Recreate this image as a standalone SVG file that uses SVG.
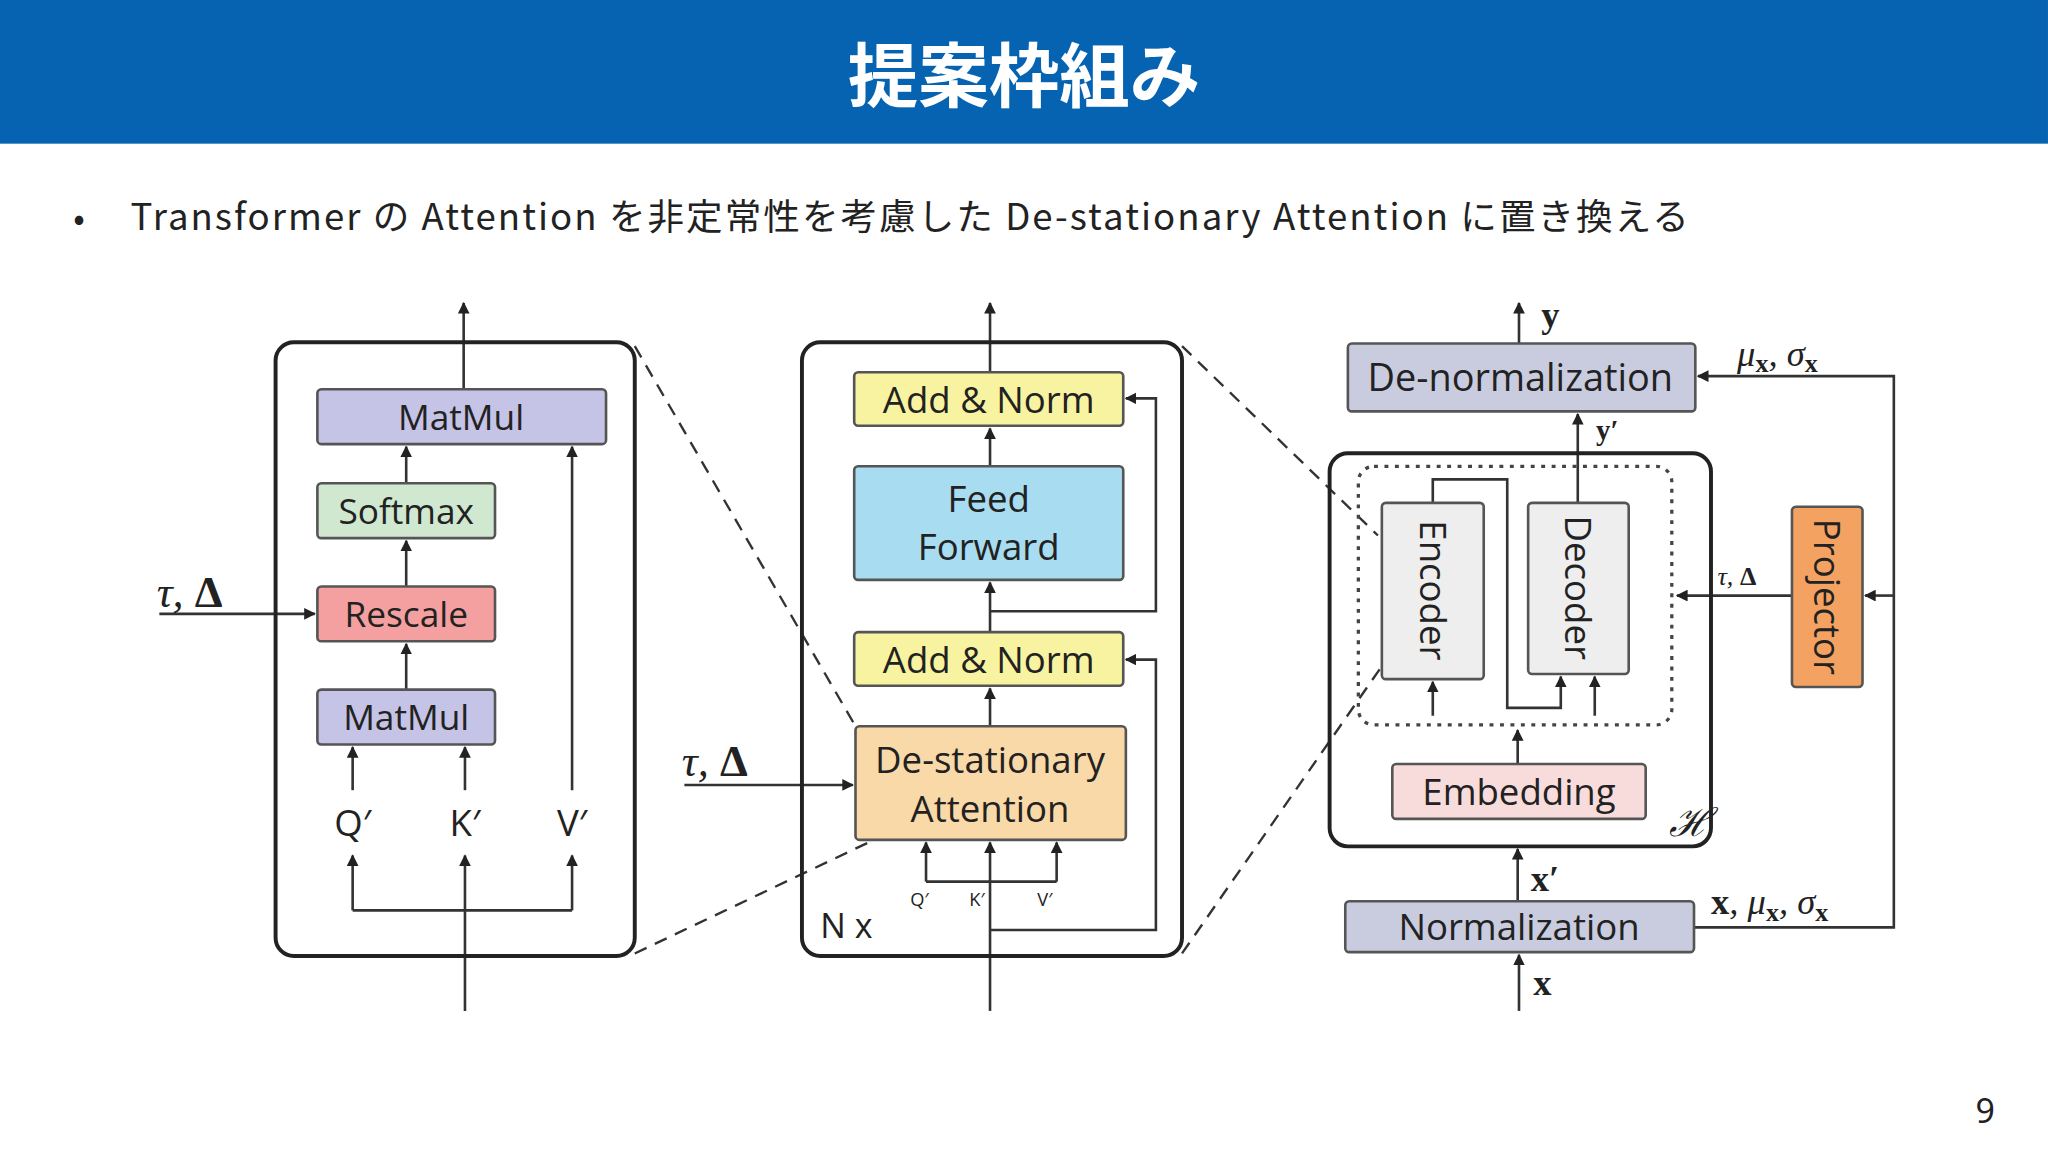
<svg xmlns="http://www.w3.org/2000/svg" width="2048" height="1152" viewBox="0 0 2048 1152">
<defs>
<marker id="ah" viewBox="0 0 10 10" refX="9" refY="5" markerWidth="9" markerHeight="9" markerUnits="userSpaceOnUse" orient="auto"><path d="M0,0 L10,5 L0,10 z" fill="#222"/></marker>
<style>
.b{stroke:#555;stroke-width:2}
.t{font-family:"Open Sans","Liberation Sans",sans-serif;fill:#222;text-anchor:middle}
.m{font-family:"Liberation Serif",serif;fill:#222}
.c{fill:none;stroke:#333;stroke-width:2}
.a{fill:none;stroke:#333;stroke-width:2;marker-end:url(#ah)}
.d{fill:none;stroke:#333;stroke-width:1.8;stroke-dasharray:10 7}
</style>
</defs>
<rect width="2048" height="1152" fill="#fff"/>
<g transform="scale(1.3061)">
<rect x="0" y="0" width="1568" height="110" fill="#0563b1"/>
<text x="784" y="78" font-size="54" font-weight="bold" fill="#fff" text-anchor="middle" font-family="'Noto Sans CJK JP',sans-serif">提案枠組み</text>
<text x="56" y="176" font-size="26" fill="#222" font-family="'Noto Sans CJK JP',sans-serif">•</text>
<text x="100" y="176" font-size="28" fill="#222" textLength="1193" lengthAdjust="spacing" font-family="'Noto Sans CJK JP',sans-serif">Transformer の Attention を非定常性を考慮した De-stationary Attention に置き換える</text>
<text x="1520" y="860" font-size="26" fill="#222" text-anchor="middle" font-family="'Noto Sans',sans-serif">9</text>

<g id="connectors">
<path class="d" d="M486,265 L655,556 M486,730 L665,645 M905,265 L1055,410 M905,730 L1058,510"/>
<!-- left panel -->
<path class="c" d="M356,774 V697 M270,697 H438"/>
<path class="a" d="M356,697 V655"/>
<path class="a" d="M270,697 V655"/>
<path class="a" d="M438,697 V655"/>
<path class="a" d="M270,605 V572"/>
<path class="a" d="M356,605 V572"/>
<path class="a" d="M438,605 V342"/>
<path class="a" d="M311,528 V493"/>
<path class="a" d="M311,449 V414"/>
<path class="a" d="M311,370 V342"/>
<path class="a" d="M355,298 V232"/>
<path class="a" d="M122,470 H241"/>
<!-- middle panel -->
<path class="a" d="M758,774 V645"/>
<path class="c" d="M709,675 H809"/>
<path class="a" d="M709,675 V645"/>
<path class="a" d="M809,675 V645"/>
<path class="a" d="M758,712 H885 V505 H862"/>
<path class="a" d="M758,468 H885 V305 H862"/>
<path class="a" d="M758,556 V527"/>
<path class="a" d="M758,484 V446"/>
<path class="a" d="M758,357 V328"/>
<path class="a" d="M758,285 V232"/>
<path class="a" d="M524,601 H653"/>
<!-- right panel -->
<path class="a" d="M1163,263 V232"/>
<path class="a" d="M1208,385 V317"/>
<path class="a" d="M1097,385 V367 H1154 V542 H1195 V518"/>
<path class="a" d="M1221,548 V518"/>
<path class="a" d="M1097,548 V522"/>
<path class="a" d="M1162,585 V559"/>
<path class="a" d="M1162,690 V650"/>
<path class="a" d="M1163,774 V731"/>
<path class="a" d="M1297,710 H1450 V288 H1300"/>
<path class="a" d="M1450,456 H1428"/>
<path class="a" d="M1372,456 H1284"/>
</g>

<g id="left-panel"><rect x="211" y="262" width="275" height="470" rx="14" fill="none" stroke="#222" stroke-width="3"/></g>
<g id="matmul-top"><rect class="b" x="243" y="298" width="221" height="42" rx="3" fill="#c5c3e6"/><text class="t" x="353" y="329" font-size="27">MatMul</text></g>
<g id="softmax"><rect class="b" x="243" y="370" width="136" height="42" rx="3" fill="#cfe8cf"/><text class="t" x="311" y="401" font-size="27">Softmax</text></g>
<g id="rescale"><rect class="b" x="243" y="449" width="136" height="42" rx="3" fill="#f5a0a0"/><text class="t" x="311" y="480" font-size="27">Rescale</text></g>
<g id="matmul-bot"><rect class="b" x="243" y="528" width="136" height="42" rx="3" fill="#c5c3e6"/><text class="t" x="311" y="559" font-size="27">MatMul</text></g>
<g id="qkv-left"><text class="t" x="270" y="640" font-size="28">Q′</text><text class="t" x="356" y="640" font-size="28">K′</text><text class="t" x="438" y="640" font-size="28">V′</text></g>
<text class="m" x="120" y="465" font-size="34" font-style="italic">τ, <tspan font-weight="bold" font-style="normal">Δ</tspan></text>

<g id="mid-panel"><rect x="614" y="262" width="291" height="470" rx="14" fill="none" stroke="#222" stroke-width="3"/><text class="t" x="648" y="718" font-size="26">N x</text></g>
<g id="addnorm-top"><rect class="b" x="654" y="285" width="206" height="41" rx="3" fill="#f7f3a0"/><text class="t" x="757" y="316" font-size="28">Add &amp; Norm</text></g>
<g id="ff"><rect class="b" x="654" y="357" width="206" height="87" rx="3" fill="#a8dcf0"/><text class="t" x="757" y="392" font-size="28">Feed</text><text class="t" x="757" y="429" font-size="28">Forward</text></g>
<g id="addnorm-bot"><rect class="b" x="654" y="484" width="206" height="41" rx="3" fill="#f7f3a0"/><text class="t" x="757" y="515" font-size="28">Add &amp; Norm</text></g>
<g id="dsa"><rect class="b" x="655" y="556" width="207" height="87" rx="3" fill="#f9d9a8"/><text class="t" x="758" y="592" font-size="28">De-stationary</text><text class="t" x="758" y="629" font-size="28">Attention</text></g>
<g id="qkv-mid"><text class="t" x="704" y="694" font-size="14">Q′</text><text class="t" x="748" y="694" font-size="14">K′</text><text class="t" x="800" y="694" font-size="14">V′</text></g>
<text class="m" x="522" y="594" font-size="34" font-style="italic">τ, <tspan font-weight="bold" font-style="normal">Δ</tspan></text>

<g id="denorm"><rect class="b" x="1032" y="263" width="266" height="52" rx="3" fill="#c9cbdf"/><text class="t" x="1164" y="299" font-size="29">De-normalization</text></g>
<text class="m" x="1180" y="250" font-size="28" font-weight="bold">y</text>
<text class="m" x="1222" y="337" font-size="22" font-weight="bold">y′</text>
<text class="m" x="1330" y="280" font-size="28" font-style="italic">μ<tspan font-size="20" font-weight="bold" font-style="normal" dy="5">x</tspan><tspan dy="-5">, σ</tspan><tspan font-size="20" font-weight="bold" font-style="normal" dy="5">x</tspan></text>
<g id="H-box"><rect x="1018" y="347" width="292" height="301" rx="14" fill="none" stroke="#222" stroke-width="3"/><text class="m" x="1278" y="640" font-size="30" font-style="italic">ℋ</text></g>
<rect x="1040" y="357" width="240" height="198" rx="12" fill="none" stroke="#444" stroke-width="2.5" stroke-dasharray="3 5"/>
<g id="encoder"><rect class="b" x="1058" y="385" width="78" height="135" rx="3" fill="#eeeeee"/><text class="t" transform="translate(1087,452) rotate(90)" font-size="28">Encoder</text></g>
<g id="decoder"><rect class="b" x="1170" y="385" width="77" height="131" rx="3" fill="#eeeeee"/><text class="t" transform="translate(1198,450) rotate(90)" font-size="28">Decoder</text></g>
<g id="embedding"><rect class="b" x="1066" y="585" width="194" height="42" rx="3" fill="#f8dcdc"/><text class="t" x="1163" y="616" font-size="28">Embedding</text></g>
<g id="norm"><rect class="b" x="1030" y="690" width="267" height="39" rx="3" fill="#c9cbdf"/><text class="t" x="1163" y="720" font-size="28">Normalization</text></g>
<text class="m" x="1172" y="682" font-size="28" font-weight="bold">x′</text>
<text class="m" x="1174" y="762" font-size="28" font-weight="bold">x</text>
<text class="m" x="1310" y="700" font-size="28"><tspan font-weight="bold">x</tspan><tspan font-style="italic">, μ</tspan><tspan font-size="20" font-weight="bold" dy="5">x</tspan><tspan font-style="italic" dy="-5">, σ</tspan><tspan font-size="20" font-weight="bold" dy="5">x</tspan></text>
<g id="projector"><rect class="b" x="1372" y="388" width="54" height="138" rx="3" fill="#f4a261"/><text class="t" transform="translate(1389,457) rotate(90)" font-size="28">Projector</text></g>
<text class="m" x="1315" y="448" font-size="20" font-style="italic">τ, <tspan font-weight="bold" font-style="normal">Δ</tspan></text>
</g>
</svg>
